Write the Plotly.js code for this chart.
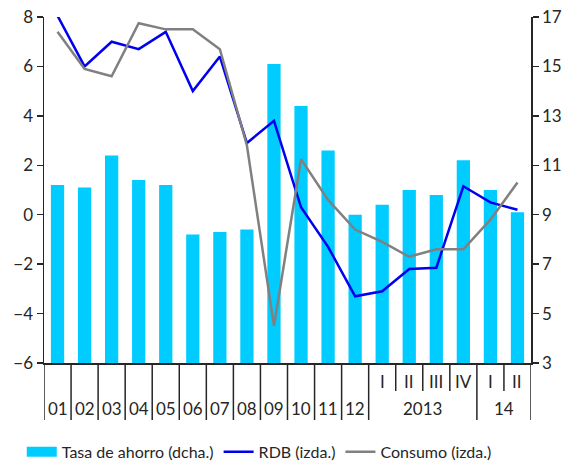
<!DOCTYPE html>
<html>
<head>
<meta charset="utf-8">
<script src="https://cdn.plot.ly/plotly-3.0.1.min.js"></script>
<style>html,body{margin:0;padding:0;background:#fff}#chart{width:573px;height:464px}</style>
</head>
<body>
<div id="chart"></div>
<script>
// Periods (years 2001-2012, then quarters of 2013 and 2014)
const periods = ['01','02','03','04','05','06','07','08','09','10','11','12',
                 '2013 I','2013 II','2013 III','2013 IV','2014 I','2014 II'];
// Labels shown under each period (bottom row for years, upper row for quarters)
const periodLabels = ['01','02','03','04','05','06','07','08','09','10','11','12','','','','','',''];
const quarterLabels = ['','','','','','','','','','','','','I','II','III','IV','I','II'];
// Year group labels for the quarterly part
const yearGroupLabels = ['2013','14'];
const yearGroupCenters = [13.5, 16.5];

// Series
const tasaAhorro = [10.2, 10.1, 11.4, 10.4, 10.2, 8.2, 8.3, 8.4, 15.1, 13.4, 11.6, 9.0, 9.4, 10.0, 9.8, 11.2, 10.0, 9.1];
const rdb        = [8.05, 6.0, 7.0, 6.7, 7.4, 5.0, 6.4, 2.9, 3.8, 0.3, -1.3, -3.3, -3.1, -2.2, -2.15, 1.15, 0.5, 0.2];
const consumo    = [7.4, 5.9, 5.6, 7.75, 7.5, 7.5, 6.7, 2.8, -4.5, 2.25, 0.6, -0.6, -1.1, -1.7, -1.4, -1.4, -0.2, 1.3];

const FONT = 'Lato, "Open Sans", sans-serif';
const INK = '#262626';
const BAR = '#00CCFF';

const traces = [
  {type:'bar', name:'Tasa de ahorro (dcha.)', x:periods, y:tasaAhorro, yaxis:'y',
   marker:{color:BAR}, width:0.49, showlegend:false, legendgroup:'ahorro'},
  // legend-only entry so the swatch is a wide rectangle as in the original
  {type:'scatter', mode:'lines', name:'Tasa de ahorro (dcha.)', x:[null], y:[null], yaxis:'y',
   line:{color:BAR, width:14}, legendgroup:'ahorro', hoverinfo:'skip'},
  {type:'scatter', mode:'lines', name:'RDB (izda.)', x:periods, y:rdb, yaxis:'y2',
   line:{color:'#0000F0', width:2.5}},
  {type:'scatter', mode:'lines', name:'Consumo (izda.)', x:periods, y:consumo, yaxis:'y2',
   line:{color:'#808080', width:2.5}}
];

const plotH = 346; // plot area height in px
const longDrop = -57/plotH, shortDrop = -28/plotH;
const shapes = [];
const longSeps = [];
for (let i = 0; i <= 12; i++) longSeps.push(i - 0.5);
longSeps.push(15.5, 17.5);
const shortSeps = [12.5, 13.5, 14.5, 16.5];
longSeps.forEach(v => shapes.push({type:'line', xref:'x', yref:'paper', x0:v, x1:v, y0:0, y1:longDrop,
  line:{color:INK, width:1.5}}));
shortSeps.forEach(v => shapes.push({type:'line', xref:'x', yref:'paper', x0:v, x1:v, y0:0, y1:shortDrop,
  line:{color:INK, width:1.5}}));

const annotations = [];
periods.forEach((p, i) => {
  if (periodLabels[i]) annotations.push({xref:'x', yref:'paper', x:i, y:-45/plotH, text:periodLabels[i],
    showarrow:false, yanchor:'middle', font:{family:FONT, size:17, color:INK}});
  if (quarterLabels[i]) annotations.push({xref:'x', yref:'paper', x:i, y:-18/plotH, text:quarterLabels[i],
    showarrow:false, yanchor:'middle', font:{family:FONT, size:17, color:INK}});
});
yearGroupLabels.forEach((t, k) => annotations.push({xref:'x', yref:'paper', x:yearGroupCenters[k], y:-45/plotH,
  text:t, showarrow:false, yanchor:'middle', font:{family:FONT, size:17, color:INK}}));

const layout = {
  width:573, height:464,
  margin:{l:44, r:42, t:17, b:101},
  paper_bgcolor:'#fff', plot_bgcolor:'#fff',
  font:{family:FONT, size:17, color:INK},
  showlegend:true,
  legend:{orientation:'h', xref:'container', x:0.038, xanchor:'left',
          yref:'container', y:0.026, yanchor:'middle',
          font:{family:FONT, size:16, color:INK}, itemwidth:30, tracegroupgap:0},
  bargap:0.5,
  xaxis:{type:'category', showticklabels:false, ticks:'', showgrid:false, zeroline:false,
         showline:true, linecolor:INK, linewidth:1.5, range:[-0.5,17.5], fixedrange:true},
  yaxis:{side:'right', range:[3,17], dtick:2, tick0:3, ticks:'outside', ticklen:6, tickwidth:1.5,
         tickcolor:INK, showline:true, linecolor:INK, linewidth:1.5, showgrid:false, zeroline:false,
         tickfont:{family:FONT, size:17, color:INK}},
  yaxis2:{overlaying:'y', side:'left', range:[-6,8], dtick:2, tick0:-6, ticks:'outside', ticklen:6, tickwidth:1.5,
          tickcolor:INK, showline:true, linecolor:INK, linewidth:1.5, showgrid:false, zeroline:false,
          tickfont:{family:FONT, size:17, color:INK}},
  shapes:shapes,
  annotations:annotations
};

Plotly.newPlot('chart', traces, layout, {displayModeBar:false, staticPlot:true});
</script>
</body>
</html>
